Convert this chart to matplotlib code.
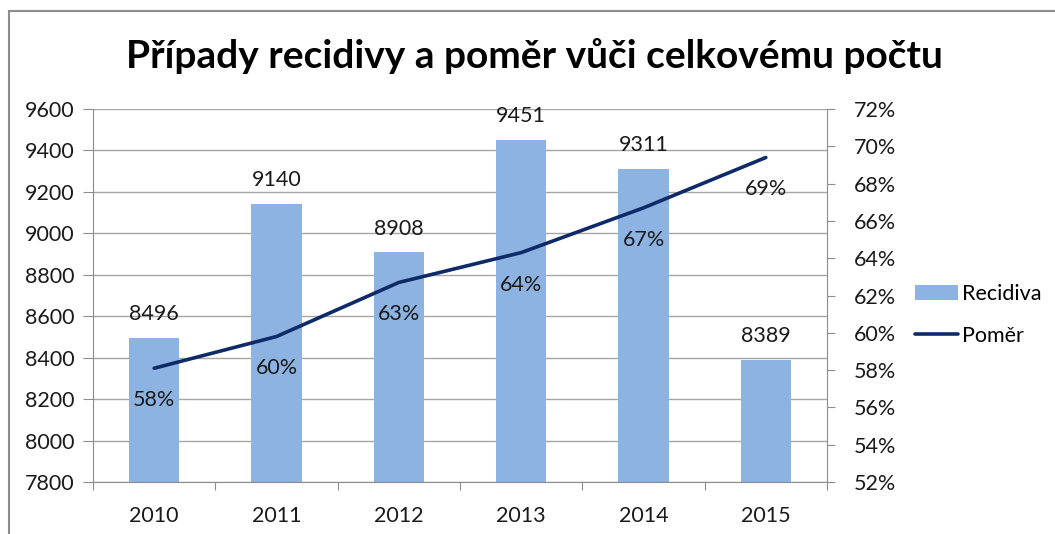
import matplotlib.pyplot as plt
from matplotlib.lines import Line2D
from matplotlib.ticker import FuncFormatter

years = ["2010", "2011", "2012", "2013", "2014", "2015"]
recidiva = [8496, 9140, 8908, 9451, 9311, 8389]
pomer = [0.581, 0.598, 0.627, 0.643, 0.667, 0.694]

plt.rcParams["font.family"] = ["Lato", "DejaVu Sans"]

barColor = "#8DB3E2"
lineColor = "#0E2A68"
gridColor = "#A6A6A6"
axisColor = "#8C8C8C"
fs = 15.5

fig = plt.figure(figsize=(10.55, 5.34), dpi=100)
ax = fig.add_axes([93/1055, 52/534, 734/1055, 373/534])
ax2 = ax.twinx()

x = list(range(len(years)))
bars = ax.bar(x, recidiva, width=0.41, color=barColor, zorder=2, label="Recidiva")
line, = ax2.plot(x, pomer, color=lineColor, linewidth=2.6, solid_capstyle="round",
                 zorder=3, label="Poměr")

ax.set_xlim(-0.5, 5.5)
ax.set_ylim(7800, 9600)
ax.set_yticks(range(7800, 9601, 200))
ax2.set_ylim(0.52, 0.72)
ax2.set_yticks([0.52 + 0.02*i for i in range(11)])
ax2.yaxis.set_major_formatter(FuncFormatter(lambda v, p: f"{round(v*100)}%"))

ax.grid(axis="y", color=gridColor, linewidth=1, zorder=0)
ax.set_axisbelow(True)

# category labels in the middle, tick marks between categories
ax.set_xticks([i - 0.5 for i in range(7)])
ax.set_xticklabels([])
ax.set_xticks(x, minor=True)
ax.set_xticklabels(years, minor=True)
ax.tick_params(axis="x", which="major", length=6, color=axisColor, direction="out")
ax.tick_params(axis="x", which="minor", length=0, pad=17, labelsize=fs, labelcolor="#1a1a1a")
ax.tick_params(axis="y", length=7, color=axisColor, labelsize=fs, pad=6, labelcolor="#1a1a1a")
ax2.tick_params(axis="y", length=6, color=axisColor, labelsize=fs, pad=13, labelcolor="#1a1a1a")

for a in (ax, ax2):
    a.spines["top"].set_visible(False)
    for s in ("left", "right", "bottom"):
        a.spines[s].set_color(axisColor)
ax2.spines["left"].set_visible(False)
ax2.spines["bottom"].set_visible(False)
ax.spines["right"].set_visible(False)

for xi, v in zip(x, recidiva):
    ax.annotate(str(v), (xi, v), xytext=(0, 10), textcoords="offset points",
                ha="center", va="bottom", fontsize=fs, color="#1a1a1a")
for xi, v in zip(x, pomer):
    ax2.annotate(f"{round(v*100)}%", (xi, v), xytext=(0, -23), textcoords="offset points",
                 ha="center", va="center", fontsize=fs, color="#1a1a1a", zorder=4)

fig.text(0.507, (534-56)/534, "Případy recidivy a poměr vůči celkovému počtu",
         ha="center", va="center", fontsize=28, fontweight="bold")

fig.legend([bars, line], ["Recidiva", "Poměr"], loc="center left",
           bbox_to_anchor=(896/1055, (534-315)/534), frameon=False,
           fontsize=fs, handlelength=2.0, handletextpad=0.15, labelspacing=1.0)

# chart area border (left and top edges visible)
fig.add_artist(Line2D([9/1055, 9/1055], [0, (534-11)/534], color="#8C8C8C", linewidth=1.5))
fig.add_artist(Line2D([9/1055, 1], [(534-11)/534, (534-11)/534], color="#8C8C8C", linewidth=1.5))

fig.savefig("out.png", dpi=100)
